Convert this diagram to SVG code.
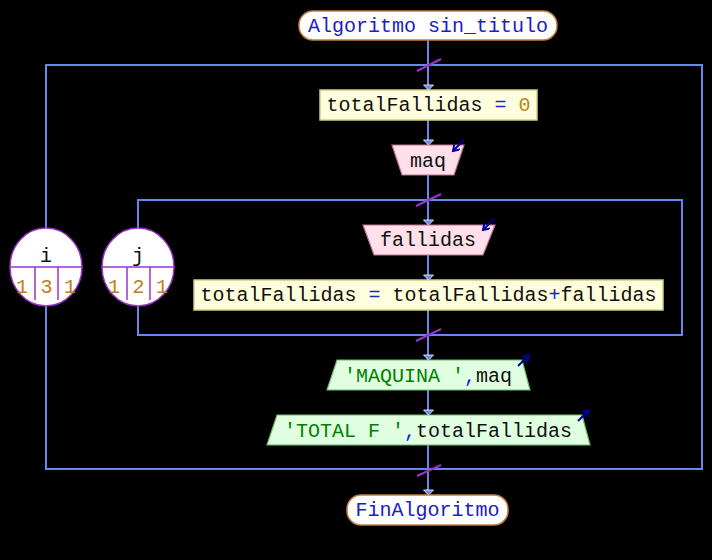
<svg xmlns="http://www.w3.org/2000/svg" width="712" height="560" viewBox="0 0 712 560">
<defs>
<style>
.ln{stroke:#6688ee;stroke-width:2;fill:none}
.sl{stroke:#9933cc;stroke-width:2;fill:none}
.t{font-family:"Liberation Mono","DejaVu Sans Mono",monospace;font-size:20px}
.term{fill:#ffffff;stroke:#c08040;stroke-width:1.5}
.asg{fill:#ffffdd;stroke:#d0d080;stroke-width:1.5}
.inp{fill:#ffe0ea;stroke:#c07090;stroke-width:1.2}
.out{fill:#e0ffe0;stroke:#70c070;stroke-width:1.2}
.cir{fill:#ffffff;stroke:#9933cc;stroke-width:1.5}
.cl{stroke:#9933cc;stroke-width:1.5}
.io{stroke:#000099;stroke-width:2;fill:none}
.kw{fill:#2020c0}
.v{fill:#101010}
.op{fill:#2020d0}
.num{fill:#c08020}
.str{fill:#008000}
</style>
<polygon id="ah" points="-5,-5 5,-5 0,0" fill="#6688ee" stroke="#ffffff" stroke-width="0.8"/>
<marker id="io" markerWidth="10" markerHeight="10" refX="7" refY="4" orient="auto" markerUnits="userSpaceOnUse">
<path d="M1,0 L7,4 L1,8" stroke="#000099" stroke-width="2" fill="none"/>
</marker>
</defs>
<rect width="712" height="560" fill="#000000"/>
<g id="connectors">
<line class="ln" x1="428" y1="40" x2="428" y2="90"/>
<rect class="ln" x="46" y="65" width="656" height="404"/>
<line class="ln" x1="428" y1="120" x2="428" y2="145"/>
<line class="ln" x1="428" y1="175" x2="428" y2="225"/>
<rect class="ln" x="138" y="200" width="544" height="135"/>
<line class="ln" x1="428" y1="255" x2="428" y2="280"/>
<line class="ln" x1="428" y1="310" x2="428" y2="360"/>
<line class="ln" x1="428" y1="390" x2="428" y2="415"/>
<line class="ln" x1="428" y1="445" x2="428" y2="495"/>
<line class="sl" x1="417" y1="71" x2="441" y2="59"/>
<line class="sl" x1="416" y1="206" x2="441" y2="194"/>
<line class="sl" x1="416" y1="341" x2="441" y2="329"/>
<line class="sl" x1="417" y1="476" x2="441" y2="465"/>
<use href="#ah" x="428.5" y="90"/>
<use href="#ah" x="428.5" y="145"/>
<use href="#ah" x="428.5" y="225"/>
<use href="#ah" x="428.5" y="280"/>
<use href="#ah" x="428.5" y="360"/>
<use href="#ah" x="428.5" y="415"/>
<use href="#ah" x="428.5" y="495"/>
</g>
<g id="start">
<rect class="term" x="299" y="11" width="258" height="29" rx="14"/>
<text class="t kw" x="428" y="32" text-anchor="middle">Algoritmo sin_titulo</text>
</g>
<g id="init">
<rect class="asg" x="320" y="90" width="217" height="30"/>
<text class="t" x="428.5" y="111" text-anchor="middle"><tspan class="v">totalFallidas </tspan><tspan class="op">=</tspan><tspan class="num"> 0</tspan></text>
</g>
<g id="read_maq">
<polygon class="inp" points="392,145 464,145 454,175 402,175"/>
<text class="t v" x="428" y="167" text-anchor="middle">maq</text>
<line class="io" x1="464" y1="140" x2="453" y2="151" marker-end="url(#io)"/>
</g>
<g id="loop_i">
<ellipse class="cir" cx="46" cy="267" rx="36" ry="39"/>
<line class="cl" x1="10" y1="267" x2="82" y2="267"/>
<line class="cl" x1="35" y1="267" x2="35" y2="300"/>
<line class="cl" x1="58" y1="267" x2="58" y2="300"/>
<text class="t v" x="46" y="262" text-anchor="middle">i</text>
<text class="t num" x="22" y="293" text-anchor="middle">1</text>
<text class="t num" x="46.5" y="293" text-anchor="middle">3</text>
<text class="t num" x="70" y="293" text-anchor="middle">1</text>
</g>
<g id="loop_j">
<ellipse class="cir" cx="138" cy="267" rx="36" ry="39"/>
<line class="cl" x1="102" y1="267" x2="174" y2="267"/>
<line class="cl" x1="127" y1="267" x2="127" y2="300"/>
<line class="cl" x1="150" y1="267" x2="150" y2="300"/>
<text class="t v" x="138" y="262" text-anchor="middle">j</text>
<text class="t num" x="114" y="293" text-anchor="middle">1</text>
<text class="t num" x="138.5" y="293" text-anchor="middle">2</text>
<text class="t num" x="162" y="293" text-anchor="middle">1</text>
</g>
<g id="read_fallidas">
<polygon class="inp" points="363,225 495,225 483,255 374,255"/>
<text class="t v" x="428" y="246" text-anchor="middle">fallidas</text>
<line class="io" x1="494" y1="219" x2="483" y2="230" marker-end="url(#io)"/>
</g>
<g id="accum">
<rect class="asg" x="194" y="280" width="469" height="30"/>
<text class="t" x="428.5" y="301" text-anchor="middle"><tspan class="v">totalFallidas </tspan><tspan class="op">=</tspan><tspan class="v"> totalFallidas</tspan><tspan class="op">+</tspan><tspan class="v">fallidas</tspan></text>
</g>
<g id="out_maq">
<polygon class="out" points="337,360 522,360 530,390 327,390"/>
<text class="t" x="428" y="382" text-anchor="middle"><tspan class="str">'MAQUINA '</tspan><tspan class="op">,</tspan><tspan class="v">maq</tspan></text>
<line class="io" x1="518" y1="366" x2="529" y2="355" marker-end="url(#io)"/>
</g>
<g id="out_total">
<polygon class="out" points="277,415 582,415 590,445 267,445"/>
<text class="t" x="428" y="437" text-anchor="middle"><tspan class="str">'TOTAL F '</tspan><tspan class="op">,</tspan><tspan class="v">totalFallidas</tspan></text>
<line class="io" x1="578" y1="421" x2="589" y2="410" marker-end="url(#io)"/>
</g>
<g id="end">
<rect class="term" x="347" y="495" width="161" height="30" rx="14"/>
<text class="t kw" x="427.5" y="516" text-anchor="middle">FinAlgoritmo</text>
</g>
</svg>
